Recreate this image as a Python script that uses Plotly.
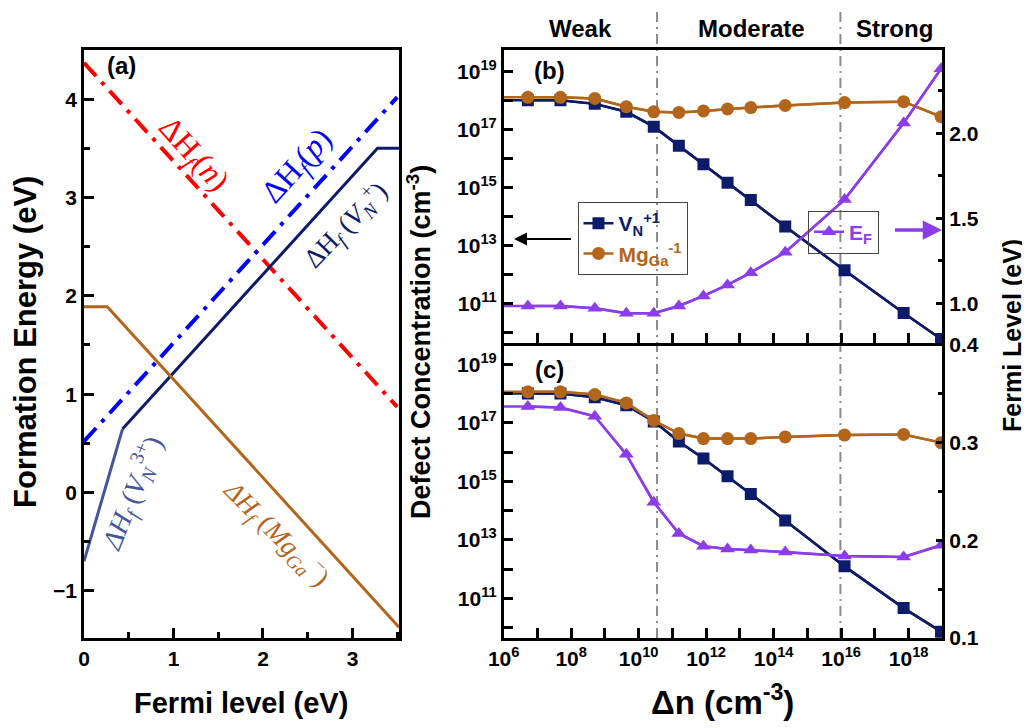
import plotly.graph_objects as go

# ---------------- Panel (a): formation energy vs Fermi level ----------------
ef_n = [0.0, 3.5]
dh_n = [4.37, 0.87]
ef_p = [0.0, 3.5]
dh_p = [0.52, 4.02]
ef_vn3 = [0.0, 0.43]
dh_vn3 = [-0.70, 0.645]
ef_vn1 = [0.43, 3.28, 3.52]
dh_vn1 = [0.645, 3.50, 3.50]
ef_mg = [0.0, 0.26, 3.52]
dh_mg = [1.89, 1.89, -1.37]

# ---------------- Panels (b), (c): concentrations vs injection ----------------
dn = [1e6, 5.2e6, 4.8e7, 5.0e8, 4.3e9, 2.8e10, 1.55e11, 8.3e11, 4.3e12,
      2.1e13, 2.2e14, 1.26e16, 7.1e17, 9.1e18]

vn_b = [1.0e18, 1.0e18, 1.0e18, 7.5e17, 4.0e17, 1.23e17, 2.7e16, 6.3e15,
        1.45e15, 3.7e14, 4.5e13, 1.4e12, 4.7e10, 6.0e9]
mg_b = [1.26e18, 1.26e18, 1.26e18, 1.15e18, 6.0e17, 4.0e17, 3.8e17, 4.3e17,
        5.0e17, 5.6e17, 6.6e17, 8.3e17, 8.9e17, 2.7e17]
ef_b = [0.984, 0.984, 0.984, 0.970, 0.941, 0.941, 0.984, 1.043, 1.108,
        1.18, 1.30, 1.61, 2.06, 2.38]

vn_c = [1.0e18, 1.0e18, 1.0e18, 7.5e17, 4.0e17, 1.12e17, 2.3e16, 6.0e15,
        1.48e15, 3.7e14, 4.6e13, 1.23e12, 4.6e10, 7.2e9]
mg_c = [1.15e18, 1.15e18, 1.15e18, 9.3e17, 4.8e17, 1.2e17, 4.3e16, 2.9e16,
        2.9e16, 2.9e16, 3.3e16, 3.8e16, 4.0e16, 2.1e16]
ef_c = [0.337, 0.337, 0.336, 0.327, 0.288, 0.239, 0.207, 0.194, 0.191,
        0.190, 0.188, 0.184, 0.183, 0.195]

regime_labels = ["Weak", "Moderate", "Strong"]
regime_bounds = [3.5e10, 9.5e15]

NAVY = "#0d1b6b"
NAVY_L = "#41569b"
BROWN = "#b3661b"
PURPLE = "#8c3ce8"
RED = "#ff0000"
BLUE = "#0000ff"
FONT = "Arial, Liberation Sans, sans-serif"
SERIF = "Liberation Serif, Times New Roman, serif"

W, H = 1030, 728
OFF = 8  # page body margin of the html file
def px(x):
    return (x - OFF) / W
def py(y):
    return 1 - (y - OFF) / H

fig = go.Figure()

# panel (a)
dashdot = "18px,8px,4px,8px"
fig.add_trace(go.Scatter(x=ef_n, y=dh_n, mode="lines", line=dict(color=RED, width=4, dash=dashdot),
                         xaxis="x", yaxis="y", showlegend=False))
fig.add_trace(go.Scatter(x=ef_p, y=dh_p, mode="lines", line=dict(color=BLUE, width=4, dash=dashdot),
                         xaxis="x", yaxis="y", showlegend=False))
fig.add_trace(go.Scatter(x=ef_vn3, y=dh_vn3, mode="lines", line=dict(color=NAVY_L, width=3),
                         xaxis="x", yaxis="y", showlegend=False))
fig.add_trace(go.Scatter(x=ef_vn1, y=dh_vn1, mode="lines", line=dict(color=NAVY, width=3),
                         xaxis="x", yaxis="y", showlegend=False))
fig.add_trace(go.Scatter(x=ef_mg, y=dh_mg, mode="lines", line=dict(color=BROWN, width=3),
                         xaxis="x", yaxis="y", showlegend=False))


def series(x, y, xa, ya, color, symbol, size, name=None, legend="legend"):
    # full line (starts at the left edge), then markers on measured points
    fig.add_trace(go.Scatter(x=x, y=y, mode="lines", line=dict(color=color, width=2.5),
                             xaxis=xa, yaxis=ya, showlegend=False, hoverinfo="skip"))
    fig.add_trace(go.Scatter(x=x[1:], y=y[1:], mode="lines+markers",
                             line=dict(color=color, width=2.5),
                             marker=dict(symbol=symbol, size=size, color=color),
                             xaxis=xa, yaxis=ya, name=name or "",
                             showlegend=name is not None, legend=legend))


series(dn, vn_b, "x2", "y2", NAVY, "square", 12,
       '<span style="color:%s">V<sub>N</sub><sup>+1</sup></span>' % NAVY)
series(dn, mg_b, "x2", "y2", BROWN, "circle", 13,
       '<span style="color:%s">Mg<sub>Ga</sub><sup>-1</sup></span>' % BROWN)
series(dn, ef_b, "x2", "y3", PURPLE, "triangle-up", 13,
       '<span style="color:%s">E<sub>F</sub></span>' % PURPLE, legend="legend2")

series(dn, vn_c, "x3", "y4", NAVY, "square", 12)
series(dn, mg_c, "x3", "y4", BROWN, "circle", 13)
series(dn, ef_c, "x3", "y5", PURPLE, "triangle-up", 13)

tickfont = dict(family=FONT, size=21, color="black", weight="bold")
common = dict(showline=True, linewidth=2.5, linecolor="black", ticks="inside",
              tickwidth=2.5, tickcolor="black", showgrid=False, zeroline=False,
              tickfont=tickfont, automargin=False)

def minor(vals, ln):
    return dict(tickvals=vals, ticklen=ln, tickwidth=2.5, ticks="inside", tickcolor="black",
                showgrid=False)

# domains
xa_dom = [px(84), px(399)]
xb_dom = [px(503.7), px(942.4)]
ya_dom = [py(638), py(50)]
yb_dom = [py(343), py(50)]
yc_dom = [py(638), py(343)]

x_major = [10.0 ** k for k in range(6, 20, 2)]
x_major_txt = ["10<sup>%d</sup>" % k for k in range(6, 20, 2)]
x_minor = [10.0 ** k for k in range(7, 20, 2)]
y_major = [10.0 ** k for k in range(11, 20, 2)]
y_major_txt = ["10<sup>%d</sup>" % k for k in range(11, 20, 2)]
y_minor = [10.0 ** k for k in range(10, 20, 2)]

fig.update_layout(
    width=W, height=H, margin=dict(l=0, r=0, t=0, b=0, autoexpand=False),
    paper_bgcolor="white", plot_bgcolor="white",
    xaxis=dict(domain=xa_dom, range=[0, 3.52], anchor="y", mirror=True,
               tickvals=[0, 1, 2, 3], ticklen=10,
               minor=minor([0.5, 1.5, 2.5, 3.5], 6), **common),
    yaxis=dict(domain=ya_dom, range=[-1.48, 4.5], anchor="x", mirror=True,
               tickvals=[-1, 0, 1, 2, 3, 4], ticklen=10,
               minor=minor([-0.5, 0.5, 1.5, 2.5, 3.5, 4.5], 6), **common),
    xaxis2=dict(domain=xb_dom, type="log", range=[6, 19.0], anchor="y2", mirror=True,
                tickvals=x_major, showticklabels=False, ticklen=10,
                minor=minor(x_minor, 10), **common),
    xaxis3=dict(domain=xb_dom, type="log", range=[6, 19.0], anchor="y4", mirror=False,
                tickvals=x_major, ticktext=x_major_txt, ticklen=10,
                minor=minor(x_minor, 10), **common),
    yaxis2=dict(domain=yb_dom, type="log", range=[9.64, 19.73], anchor="x2",
                tickvals=y_major, ticktext=y_major_txt, ticklen=10,
                minor=minor(y_minor, 10), **common),
    yaxis3=dict(overlaying="y2", side="right", range=[0.766, 2.49], anchor="x2",
                tickvals=[1.0, 1.5, 2.0], ticktext=["1.0", "1.5", "2.0"], ticklen=7,
                minor=minor([1.25, 1.75, 2.25], 5), **common),
    yaxis4=dict(domain=yc_dom, type="log", range=[9.64, 19.73], anchor="x3",
                tickvals=y_major, ticktext=y_major_txt, ticklen=10,
                minor=minor(y_minor, 10), **common),
    yaxis5=dict(overlaying="y4", side="right", range=[0.1, 0.402], anchor="x3",
                tickvals=[0.1, 0.2, 0.3, 0.4], ticktext=["0.1", "0.2", "0.3", "0.4"], ticklen=7,
                minor=minor([0.15, 0.25, 0.35], 5), **common),
    legend=dict(x=px(577.5), y=py(202), xanchor="left", yanchor="top",
                bgcolor="rgba(255,255,255,0)", bordercolor="#444", borderwidth=1,
                font=dict(family=FONT, size=21, weight="bold"), tracegroupgap=0,
                itemwidth=30),
    legend2=dict(x=px(808), y=py(210.5), xanchor="left", yanchor="top",
                 bgcolor="rgba(255,255,255,0)", bordercolor="#444", borderwidth=1,
                 font=dict(family=FONT, size=21, weight="bold"), itemwidth=30),
)

# regime boundaries (dash-dot grey)
for b in regime_bounds:
    fig.add_shape(type="line", xref="x2", yref="paper", x0=b, x1=b, y0=py(638), y1=py(8),
                  line=dict(color="#8a8a8a", width=2, dash="10px,5px,2px,5px"), layer="below")

ann = []
def text_at(text, xp, yp, size, color="black", ang=0, family=FONT, bold=True):
    f = dict(family=family, size=size, color=color)
    if bold:
        f["weight"] = "bold"
    ann.append(dict(text=text, x=px(xp), y=py(yp), xref="paper", yref="paper", showarrow=False,
                    xanchor="center", yanchor="middle", textangle=ang, font=f))

# regime labels
for lab, xp in zip(regime_labels, [580.8, 751.5, 894.2]):
    text_at(lab, xp, 28, 24)
# panel tags
for lab, xp, yp in [("(a)", 121, 66), ("(b)", 549, 70), ("(c)", 549, 369)]:
    text_at(lab, xp, yp, 24)
# axis titles
text_at("Formation Energy (eV)", 26, 342, 31, ang=-90)
text_at("Fermi level (eV)", 241, 703, 29)
text_at("Defect Concentration (cm<sup>-3</sup>)", 419, 342, 27, ang=-90)
text_at("Δn (cm<sup>-3</sup>)", 722, 700, 33)
text_at("Fermi Level (eV)", 1012, 336, 25, ang=-90)

# curve labels in panel (a)
text_at("ΔH<sub><i>f</i></sub>(<i>n</i>)", 192, 155, 32, RED, 48, SERIF, False)
text_at("ΔH<sub><i>f</i></sub>(<i>p</i>)", 297, 167, 32, BLUE, -48, SERIF, False)
text_at("ΔH<sub><i>f</i></sub> (<i>V</i><sub><i>N</i></sub><sup>+</sup>)", 345, 225, 27, NAVY, -46, SERIF, False)
text_at("<i>ΔH</i><sub><i>f</i></sub> (<i>V</i><sub><i>N</i></sub><sup>3+</sup>)", 132, 493, 28, NAVY_L, -68, SERIF, False)
text_at("<i>ΔH</i><sub><i>f</i></sub> (<i>Mg</i><sub><i>Ga</i></sub><sup>−</sup>)", 277, 533, 27, BROWN, 45, SERIF, False)

# arrows pointing to the relevant axes
ann.append(dict(text=" ", x=px(514), y=py(239), xref="paper", yref="paper", ax=60, ay=0,
                showarrow=True, arrowhead=2, arrowsize=1.3, arrowwidth=2, arrowcolor="black"))
ann.append(dict(text=" ", x=px(942), y=py(230), xref="paper", yref="paper", ax=-50, ay=0,
                showarrow=True, arrowhead=2, arrowsize=1.1, arrowwidth=3.5, arrowcolor=PURPLE))

fig.update_layout(annotations=ann)
fig.write_html("out.html")
